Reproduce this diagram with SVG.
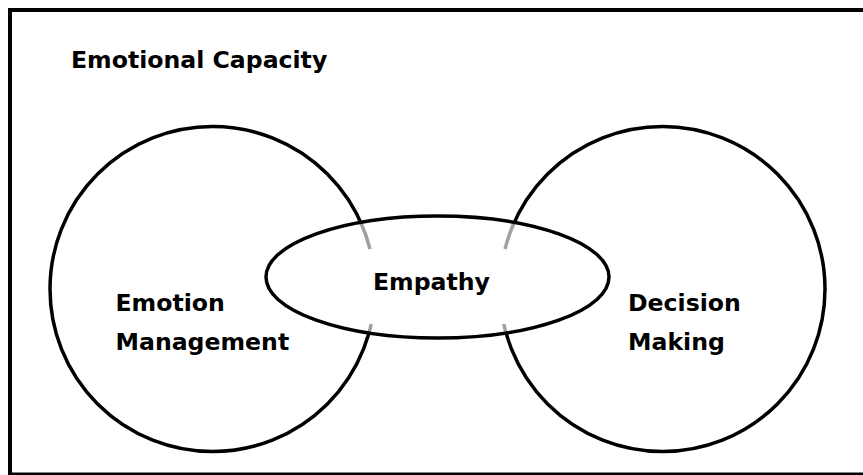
<svg xmlns="http://www.w3.org/2000/svg" width="863" height="475" viewBox="0 0 863 475">
  <style>
    .frame { fill: #ffffff; stroke: #000000; stroke-width: 4; }
    .ring { fill: none; stroke: #000000; stroke-width: 3.5; }
    .hidden { fill: none; stroke: #a0a0a0; stroke-width: 3.5; }
    .label { font-family: "DejaVu Sans", Verdana, sans-serif; font-weight: bold; font-size: 23.6px; fill: #000000; }
  </style>

  <!-- outer frame, running past the right and bottom edges -->
  <rect class="frame" x="10" y="10" width="880" height="464.5"/>

  <g id="title">
    <text class="label" x="71" y="68">Emotional Capacity</text>
  </g>

  <g id="emotion-management">
    <circle class="ring" cx="212.5" cy="289" r="162.5"/>
    <text class="label" x="115.5" y="311">Emotion</text>
    <text class="label" x="115.5" y="350">Management</text>
  </g>

  <g id="decision-making">
    <circle class="ring" cx="662.5" cy="289" r="162.5"/>
    <text class="label" x="628" y="311">Decision</text>
    <text class="label" x="628" y="350">Making</text>
  </g>

  <g id="empathy">
    <ellipse cx="437.5" cy="277" rx="171.5" ry="61" fill="#ffffff" stroke="none"/>
    <!-- circle edges seen through the ellipse -->
    <path class="hidden" d="M 360.7 222.3 A 162.5 162.5 0 0 1 370 249"/>
    <path class="hidden" d="M 371.2 324 A 162.5 162.5 0 0 1 369.1 332.5"/>
    <path class="hidden" d="M 514.3 222.3 A 162.5 162.5 0 0 0 505 249"/>
    <path class="hidden" d="M 503.8 324 A 162.5 162.5 0 0 0 505.9 332.5"/>
    <ellipse class="ring" cx="437.5" cy="277" rx="171.5" ry="61"/>
    <text class="label" x="373" y="290">Empathy</text>
  </g>
</svg>
